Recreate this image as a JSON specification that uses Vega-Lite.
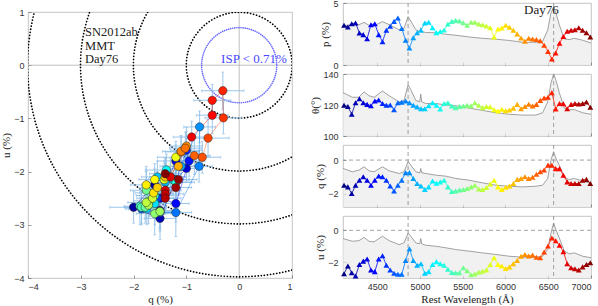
{
  "$schema": "https://vega.github.io/schema/vega-lite/v6.json",
  "padding": {"left": 0, "top": -2, "right": 0, "bottom": 0},
  "config": {
    "view": {"stroke": "#b4b4b4", "strokeWidth": 0.8},
    "axis": {"domain": false, "grid": false, "ticks": true, "tickSize": -3, "tickColor": "#555", "tickWidth": 0.6, "labelFont": "Liberation Sans", "labelFontSize": 9, "labelColor": "#333", "labelPadding": 7, "labelOverlap": false, "labelBound": false, "titleFont": "Liberation Serif", "titleFontSize": 11, "titleFontWeight": "normal", "titleColor": "#222", "titlePadding": 2}
  },
  "datasets": {
    "pol": [
      {"w": 4112, "p": 3.2, "t": 119.8, "q": -1.5, "u": -2.73, "qe": 0.3, "ue": 0.35},
      {"w": 4157, "p": 3.06, "t": 119, "q": -1.6, "u": -2.25, "qe": 0.25, "ue": 0.3},
      {"w": 4202, "p": 3.33, "t": 114, "q": -2.0, "u": -2.67, "qe": 0.45, "ue": 0.3},
      {"w": 4247, "p": 3.39, "t": 121.5, "q": -1.5, "u": -2.88, "qe": 0.3, "ue": 0.4},
      {"w": 4292, "p": 2.58, "t": 124, "q": -1.2, "u": -2.15, "qe": 0.25, "ue": 0.3},
      {"w": 4337, "p": 2.45, "t": 121.5, "q": -1.0, "u": -1.94, "qe": 0.3, "ue": 0.25},
      {"w": 4382, "p": 2.12, "t": 120.4, "q": -1.2, "u": -1.8, "qe": 0.35, "ue": 0.3},
      {"w": 4427, "p": 3.25, "t": 119.5, "q": -1.5, "u": -2.5, "qe": 0.3, "ue": 0.3},
      {"w": 4472, "p": 3.33, "t": 122.6, "q": -1.2, "u": -2.6, "qe": 0.25, "ue": 0.35},
      {"w": 4517, "p": 2.45, "t": 123.2, "q": -0.95, "u": -1.8, "qe": 0.3, "ue": 0.3},
      {"w": 4562, "p": 1.88, "t": 121, "q": -1.0, "u": -1.6, "qe": 0.3, "ue": 0.35},
      {"w": 4607, "p": 2.8, "t": 119.8, "q": -1.2, "u": -2.2, "qe": 0.35, "ue": 0.3},
      {"w": 4652, "p": 3.12, "t": 120, "q": -1.55, "u": -2.5, "qe": 0.3, "ue": 0.35},
      {"w": 4697, "p": 3.52, "t": 117, "q": -1.85, "u": -2.7, "qe": 0.3, "ue": 0.3},
      {"w": 4742, "p": 3.79, "t": 121.5, "q": -1.5, "u": -2.77, "qe": 0.4, "ue": 0.35},
      {"w": 4787, "p": 2.95, "t": 121.8, "q": -1.2, "u": -2.77, "qe": 0.3, "ue": 0.45},
      {"w": 4832, "p": 1.99, "t": 122.6, "q": -0.76, "u": -1.9, "qe": 0.25, "ue": 0.3},
      {"w": 4877, "p": 1.37, "t": 121.5, "q": -0.75, "u": -1.16, "qe": 0.3, "ue": 0.3},
      {"w": 4922, "p": 2.2, "t": 119.8, "q": -1.1, "u": -1.9, "qe": 0.35, "ue": 0.3},
      {"w": 4967, "p": 2.6, "t": 118.8, "q": -1.4, "u": -2.2, "qe": 0.3, "ue": 0.35},
      {"w": 5012, "p": 2.8, "t": 117.6, "q": -1.55, "u": -2.1, "qe": 0.3, "ue": 0.3},
      {"w": 5057, "p": 3.39, "t": 117.6, "q": -1.75, "u": -2.7, "qe": 0.35, "ue": 0.3},
      {"w": 5102, "p": 3.45, "t": 119.5, "q": -1.6, "u": -2.6, "qe": 0.3, "ue": 0.4},
      {"w": 5147, "p": 3.0, "t": 121.5, "q": -1.25, "u": -2.15, "qe": 0.3, "ue": 0.3},
      {"w": 5192, "p": 2.6, "t": 119.8, "q": -1.38, "u": -1.97, "qe": 0.4, "ue": 0.3},
      {"w": 5237, "p": 2.7, "t": 117.5, "q": -1.3, "u": -2.1, "qe": 0.3, "ue": 0.35},
      {"w": 5282, "p": 2.82, "t": 121, "q": -1.2, "u": -2.2, "qe": 0.3, "ue": 0.3},
      {"w": 5327, "p": 3.3, "t": 121.5, "q": -1.6, "u": -2.45, "qe": 0.35, "ue": 0.3},
      {"w": 5372, "p": 3.52, "t": 119.4, "q": -1.88, "u": -2.65, "qe": 0.3, "ue": 0.35},
      {"w": 5417, "p": 3.6, "t": 118.3, "q": -1.85, "u": -2.67, "qe": 0.3, "ue": 0.3},
      {"w": 5462, "p": 3.55, "t": 119, "q": -1.78, "u": -2.67, "qe": 0.4, "ue": 0.3},
      {"w": 5507, "p": 3.4, "t": 119.4, "q": -1.76, "u": -2.35, "qe": 0.3, "ue": 0.35},
      {"w": 5552, "p": 3.2, "t": 119.8, "q": -1.7, "u": -2.55, "qe": 0.3, "ue": 0.3},
      {"w": 5597, "p": 3.45, "t": 119.5, "q": -1.6, "u": -2.79, "qe": 0.35, "ue": 0.4},
      {"w": 5642, "p": 3.45, "t": 121.5, "q": -1.5, "u": -2.75, "qe": 0.3, "ue": 0.3},
      {"w": 5687, "p": 3.3, "t": 119.8, "q": -1.72, "u": -2.63, "qe": 0.3, "ue": 0.35},
      {"w": 5732, "p": 3.25, "t": 118.3, "q": -1.76, "u": -2.58, "qe": 0.35, "ue": 0.3},
      {"w": 5777, "p": 3.15, "t": 119, "q": -1.64, "u": -2.5, "qe": 0.3, "ue": 0.3},
      {"w": 5822, "p": 3.0, "t": 118.8, "q": -1.42, "u": -2.15, "qe": 0.3, "ue": 0.35},
      {"w": 5867, "p": 2.26, "t": 117, "q": -1.2, "u": -1.73, "qe": 0.35, "ue": 0.3},
      {"w": 5912, "p": 2.9, "t": 116.1, "q": -1.6, "u": -2.15, "qe": 0.3, "ue": 0.3},
      {"w": 5957, "p": 2.98, "t": 117.2, "q": -1.76, "u": -2.25, "qe": 0.3, "ue": 0.35},
      {"w": 6002, "p": 3.2, "t": 116.3, "q": -1.62, "u": -2.4, "qe": 0.35, "ue": 0.3},
      {"w": 6047, "p": 3.05, "t": 116.8, "q": -1.55, "u": -2.3, "qe": 0.3, "ue": 0.3},
      {"w": 6092, "p": 2.8, "t": 118, "q": -1.4, "u": -2.1, "qe": 0.3, "ue": 0.35},
      {"w": 6137, "p": 2.5, "t": 120.4, "q": -1.15, "u": -1.9, "qe": 0.35, "ue": 0.3},
      {"w": 6182, "p": 2.18, "t": 117.6, "q": -1.1, "u": -1.63, "qe": 0.3, "ue": 0.3},
      {"w": 6227, "p": 1.92, "t": 119, "q": -1.0, "u": -1.52, "qe": 0.3, "ue": 0.35},
      {"w": 6272, "p": 2.15, "t": 120.5, "q": -1.1, "u": -1.62, "qe": 0.35, "ue": 0.3},
      {"w": 6317, "p": 2.1, "t": 119.4, "q": -1.02, "u": -1.56, "qe": 0.3, "ue": 0.3},
      {"w": 6362, "p": 2.05, "t": 120.4, "q": -0.85, "u": -1.7, "qe": 0.3, "ue": 0.35},
      {"w": 6407, "p": 1.95, "t": 123, "q": -0.7, "u": -1.73, "qe": 0.35, "ue": 0.3},
      {"w": 6452, "p": 1.6, "t": 124.5, "q": -0.59, "u": -1.37, "qe": 0.4, "ue": 0.35},
      {"w": 6497, "p": 1.1, "t": 125, "q": -0.3, "u": -0.99, "qe": 0.35, "ue": 0.3},
      {"w": 6542, "p": 0.48, "t": 128, "q": -0.31, "u": -0.48, "qe": 0.4, "ue": 0.35},
      {"w": 6587, "p": 0.97, "t": 117.5, "q": -0.51, "u": -0.66, "qe": 0.35, "ue": 0.3},
      {"w": 6632, "p": 1.75, "t": 121, "q": -0.51, "u": -0.94, "qe": 0.3, "ue": 0.35},
      {"w": 6677, "p": 2.3, "t": 120.8, "q": -0.9, "u": -1.35, "qe": 0.35, "ue": 0.3},
      {"w": 6722, "p": 2.72, "t": 117.6, "q": -1.3, "u": -2.1, "qe": 0.3, "ue": 0.3},
      {"w": 6767, "p": 2.8, "t": 120.4, "q": -1.4, "u": -2.35, "qe": 0.3, "ue": 0.35},
      {"w": 6812, "p": 2.85, "t": 121, "q": -1.4, "u": -2.42, "qe": 0.35, "ue": 0.3},
      {"w": 6857, "p": 3.0, "t": 120.6, "q": -1.4, "u": -2.5, "qe": 0.3, "ue": 0.3},
      {"w": 6902, "p": 2.8, "t": 121, "q": -1.2, "u": -2.3, "qe": 0.3, "ue": 0.35},
      {"w": 6947, "p": 2.6, "t": 122, "q": -1.15, "u": -2.15, "qe": 0.35, "ue": 0.3},
      {"w": 6992, "p": 2.26, "t": 118.5, "q": -1.4, "u": -2.04, "qe": 0.3, "ue": 0.3}
    ],
    "spec": [
      {"w": 4100, "fp": 3.17, "ft": 128, "fq": -0.5, "fu": -0.52},
      {"w": 4209, "fp": 3.25, "ft": 125, "fq": -0.7, "fu": -0.69},
      {"w": 4287, "fp": 3.25, "ft": 125, "fq": -0.6, "fu": -0.65},
      {"w": 4346, "fp": 3.44, "ft": 128.5, "fq": -0.4, "fu": -0.44},
      {"w": 4404, "fp": 3.2, "ft": 126, "fq": -0.64, "fu": -0.69},
      {"w": 4463, "fp": 3.15, "ft": 125, "fq": -0.7, "fu": -0.73},
      {"w": 4561, "fp": 3.5, "ft": 129, "fq": -0.4, "fu": -0.37},
      {"w": 4639, "fp": 3.25, "ft": 126, "fq": -0.64, "fu": -0.65},
      {"w": 4756, "fp": 2.85, "ft": 122, "fq": -0.8, "fu": -0.9},
      {"w": 4814, "fp": 2.95, "ft": 123, "fq": -0.7, "fu": -0.79},
      {"w": 4861, "fp": 3.9, "ft": 133, "fq": -0.1, "fu": -0.17},
      {"w": 4892, "fp": 3.55, "ft": 130, "fq": -0.3, "fu": -0.37},
      {"w": 4951, "fp": 2.85, "ft": 123, "fq": -0.7, "fu": -0.79},
      {"w": 4998, "fp": 2.7, "ft": 122, "fq": -0.76, "fu": -0.85},
      {"w": 5009, "fp": 3.0, "ft": 127, "fq": -0.5, "fu": -0.52},
      {"w": 5021, "fp": 2.7, "ft": 122, "fq": -0.76, "fu": -0.85},
      {"w": 5068, "fp": 2.62, "ft": 121, "fq": -0.8, "fu": -0.94},
      {"w": 5185, "fp": 2.6, "ft": 121, "fq": -0.9, "fu": -1.0},
      {"w": 5302, "fp": 2.48, "ft": 120, "fq": -0.96, "fu": -1.1},
      {"w": 5419, "fp": 2.4, "ft": 119.5, "fq": -1.1, "fu": -1.21},
      {"w": 5575, "fp": 2.26, "ft": 118, "fq": -1.2, "fu": -1.31},
      {"w": 5731, "fp": 2.15, "ft": 116.5, "fq": -1.36, "fu": -1.42},
      {"w": 5888, "fp": 2.08, "ft": 115, "fq": -1.5, "fu": -1.52},
      {"w": 6044, "fp": 1.98, "ft": 114, "fq": -1.56, "fu": -1.63},
      {"w": 6200, "fp": 1.83, "ft": 113.5, "fq": -1.6, "fu": -1.69},
      {"w": 6356, "fp": 1.83, "ft": 113.5, "fq": -1.56, "fu": -1.69},
      {"w": 6434, "fp": 1.9, "ft": 115, "fq": -1.5, "fu": -1.63},
      {"w": 6493, "fp": 2.8, "ft": 122, "fq": -1.1, "fu": -1.21},
      {"w": 6532, "fp": 4.2, "ft": 134, "fq": 0.0, "fu": -0.17},
      {"w": 6563, "fp": 4.68, "ft": 140, "fq": 0.5, "fu": 0.46},
      {"w": 6590, "fp": 4.2, "ft": 136, "fq": 0.1, "fu": 0.04},
      {"w": 6629, "fp": 3.25, "ft": 128, "fq": -0.3, "fu": -0.48},
      {"w": 6688, "fp": 2.1, "ft": 118, "fq": -1.04, "fu": -1.31},
      {"w": 6747, "fp": 2.05, "ft": 117, "fq": -1.16, "fu": -1.48},
      {"w": 6805, "fp": 2.15, "ft": 117, "fq": -1.1, "fu": -1.42},
      {"w": 6903, "fp": 2.0, "ft": 115, "fq": -1.24, "fu": -1.63},
      {"w": 7000, "fp": 1.77, "ft": 114, "fq": -1.4, "fu": -1.73}
    ],
    "lines": [{"w": 4861}, {"w": 6563}]
  },
  "spacing": 16,
  "hconcat": [
    {
      "spacing": 3,
      "vconcat": [
        {"width": 264, "height": 1, "data": {"values": []}, "mark": "point", "view": {"stroke": null}},
        {
          "width": 264,
          "height": 266,
          "layer": [
            {"data": {"values": [{"v": 0}]}, "mark": {"type": "rule", "color": "#b0b0b0", "strokeWidth": 0.8},
             "encoding": {"x": {"field": "v", "type": "quantitative", "title": "q (%)", "scale": {"domain": [-4, 1], "nice": false, "zero": false}, "axis": {"values": [-4, -3, -2, -1, 0, 1], "title": "q (%)", "labelPadding": 7}}}},
            {"data": {"values": [{"v": 0}]}, "mark": {"type": "rule", "color": "#b0b0b0", "strokeWidth": 0.8},
             "encoding": {"y": {"field": "v", "type": "quantitative", "title": "u (%)", "scale": {"domain": [-4, 1], "nice": false, "zero": false}, "axis": {"values": [-4, -3, -2, -1, 0, 1], "title": "u (%)", "labelPadding": 7}}}},
            {"data": {"values": [{"r": 1, "c": 0}, {"r": 2, "c": 0}, {"r": 3, "c": 0}, {"r": 4, "c": 0}]},
             "mark": {"type": "point", "shape": "circle", "filled": false, "stroke": "#000", "strokeWidth": 1.7, "strokeDash": [0.1, 3], "strokeCap": "round", "opacity": 1, "clip": true},
             "encoding": {"x": {"field": "c", "type": "quantitative", "title": "q (%)"}, "y": {"field": "c", "type": "quantitative", "title": "u (%)"},
                          "size": {"field": "r", "type": "quantitative", "scale": {"type": "pow", "exponent": 2, "domain": [0, 1], "range": [0, 11194]}, "legend": null}}},
            {"data": {"values": [{"r": 0.71, "c": 0}]},
             "mark": {"type": "point", "shape": "circle", "filled": false, "stroke": "#5a5aff", "strokeWidth": 1.6, "strokeDash": [0.1, 2], "strokeCap": "round", "opacity": 0.9, "clip": true},
             "encoding": {"x": {"field": "c", "type": "quantitative", "title": "q (%)"}, "y": {"field": "c", "type": "quantitative", "title": "u (%)"},
                          "size": {"field": "r", "type": "quantitative", "scale": {"type": "pow", "exponent": 2, "domain": [0, 1], "range": [0, 11194]}, "legend": null}}},
            {"data": {"name": "pol"}, "mark": {"type": "errorbar", "color": "#8fc0e8", "thickness": 0.9, "ticks": {"size": 3, "thickness": 0.9}},
             "encoding": {"x": {"field": "q", "type": "quantitative", "title": "q (%)"}, "xError": {"field": "qe"}, "y": {"field": "u", "type": "quantitative", "title": "u (%)"}}},
            {"data": {"name": "pol"}, "mark": {"type": "errorbar", "color": "#8fc0e8", "thickness": 0.9, "ticks": {"size": 3, "thickness": 0.9}},
             "encoding": {"y": {"field": "u", "type": "quantitative", "title": "u (%)"}, "yError": {"field": "ue"}, "x": {"field": "q", "type": "quantitative", "title": "q (%)"}}},
            {"data": {"name": "pol"},
             "transform": [{"window": [{"op": "lead", "field": "q", "as": "q2"}, {"op": "lead", "field": "u", "as": "u2"}], "sort": [{"field": "w"}]}, {"filter": "datum.q2 != null"}],
             "mark": {"type": "rule", "strokeWidth": 0.8, "opacity": 0.55},
             "encoding": {"x": {"field": "q", "type": "quantitative", "title": "q (%)"}, "y": {"field": "u", "type": "quantitative", "title": "u (%)"}, "x2": {"field": "q2"}, "y2": {"field": "u2"},
                          "color": {"field": "w", "type": "quantitative", "scale": {"domain": [4100, 4462.5, 4825, 5187.5, 5550, 5912.5, 6275, 6637.5, 7000], "range": ["#000080", "#0000ff", "#0080ff", "#00ffff", "#80ff80", "#ffff00", "#ff8000", "#ff0000", "#800000"], "interpolate": "rgb"}, "legend": null}}},
            {"data": {"name": "pol"}, "mark": {"type": "point", "shape": "circle", "filled": true, "size": 70, "stroke": "#222", "strokeWidth": 0.5, "opacity": 1},
             "encoding": {"x": {"field": "q", "type": "quantitative", "title": "q (%)"}, "y": {"field": "u", "type": "quantitative", "title": "u (%)"},
                          "color": {"field": "w", "type": "quantitative", "legend": null}}},
            {"data": {"values": [{"q": -2.92, "u": 0.615, "s": "SN2012ab"}, {"q": -2.92, "u": 0.365, "s": "MMT"}, {"q": -2.92, "u": 0.113, "s": "Day76"}]},
             "mark": {"type": "text", "align": "left", "baseline": "middle", "font": "Liberation Serif", "fontSize": 12.5, "color": "#222"},
             "encoding": {"x": {"field": "q", "type": "quantitative", "title": "q (%)"}, "y": {"field": "u", "type": "quantitative", "title": "u (%)"}, "text": {"field": "s"}}},
            {"data": {"values": [{"q": 0.28, "u": 0.113, "s": "ISP < 0.71%"}]},
             "mark": {"type": "text", "align": "center", "baseline": "middle", "font": "Liberation Serif", "fontSize": 13, "color": "#4848ff"},
             "encoding": {"x": {"field": "q", "type": "quantitative", "title": "q (%)"}, "y": {"field": "u", "type": "quantitative", "title": "u (%)"}, "text": {"field": "s"}}}
          ]
        }
      ]
    },
    {
      "bounds": "flush",
      "spacing": 9,
      "vconcat": [
        {
          "width": 248, "height": 62,
          "resolve": {"axis": {"x": "independent", "y": "independent"}},
          "layer": [
            {"data": {"name": "spec"}, "mark": {"type": "area", "color": "#ebebeb", "line": {"color": "#8a8a8a", "strokeWidth": 0.8}, "clip": true},
             "encoding": {"x": {"field": "w", "type": "quantitative", "scale": {"domain": [4100, 7000], "nice": false, "zero": false}, "axis": {"values": [4500, 5000, 5500, 6000, 6500, 7000], "labels": false, "title": null}},
                          "y": {"field": "fp", "type": "quantitative", "scale": {"domain": [0, 5], "nice": false}, "axis": {"values": [0, 5], "title": "p (%)", "labelPadding": 8}},
                          "y2": {"datum": 0}}},
            {"data": {"name": "lines"}, "mark": {"type": "rule", "color": "#8a8a8a", "strokeDash": [4, 3], "strokeWidth": 0.8},
             "encoding": {"x": {"field": "w", "type": "quantitative", "axis": null}}},
            {"data": {"name": "pol"},
             "transform": [{"window": [{"op": "lead", "field": "w", "as": "w2"}, {"op": "lead", "field": "p", "as": "v2"}], "sort": [{"field": "w"}]}, {"filter": "datum.w2 != null"}],
             "mark": {"type": "rule", "strokeWidth": 0.8},
             "encoding": {"x": {"field": "w", "type": "quantitative", "axis": null}, "y": {"field": "p", "type": "quantitative", "axis": null}, "x2": {"field": "w2"}, "y2": {"field": "v2"},
                          "color": {"field": "w", "type": "quantitative", "scale": {"domain": [4100, 4462.5, 4825, 5187.5, 5550, 5912.5, 6275, 6637.5, 7000], "range": ["#000080", "#0000ff", "#0080ff", "#00ffff", "#80ff80", "#ffff00", "#ff8000", "#ff0000", "#800000"], "interpolate": "rgb"}, "legend": null}}},
            {"data": {"name": "pol"}, "mark": {"type": "point", "shape": "triangle-up", "filled": true, "size": 34, "opacity": 1},
             "encoding": {"x": {"field": "w", "type": "quantitative", "axis": null}, "y": {"field": "p", "type": "quantitative", "axis": null}, "color": {"field": "w", "type": "quantitative", "legend": null}}},
            {"data": {"values": [{"w": 6622, "v": 4.4, "s": "Day76"}]}, "mark": {"type": "text", "align": "right", "baseline": "middle", "font": "Liberation Serif", "fontSize": 13, "color": "#222"},
             "encoding": {"x": {"field": "w", "type": "quantitative", "axis": null}, "y": {"field": "v", "type": "quantitative", "axis": null}, "text": {"field": "s"}}}
          ]
        },
        {
          "width": 248, "height": 62,
          "resolve": {"axis": {"x": "independent", "y": "independent"}},
          "layer": [
            {"data": {"name": "spec"}, "mark": {"type": "area", "color": "#ebebeb", "line": {"color": "#8a8a8a", "strokeWidth": 0.8}, "clip": true},
             "encoding": {"x": {"field": "w", "type": "quantitative", "scale": {"domain": [4100, 7000], "nice": false, "zero": false}, "axis": {"values": [4500, 5000, 5500, 6000, 6500, 7000], "labels": false, "title": null}},
                          "y": {"field": "ft", "type": "quantitative", "scale": {"domain": [100, 140], "nice": false, "zero": false}, "axis": {"values": [100, 120, 140], "title": "θ(°)", "labelPadding": 8}},
                          "y2": {"datum": 100}}},
            {"data": {"name": "lines"}, "mark": {"type": "rule", "color": "#8a8a8a", "strokeDash": [4, 3], "strokeWidth": 0.8},
             "encoding": {"x": {"field": "w", "type": "quantitative", "axis": null}}},
            {"data": {"name": "pol"},
             "transform": [{"window": [{"op": "lead", "field": "w", "as": "w2"}, {"op": "lead", "field": "t", "as": "v2"}], "sort": [{"field": "w"}]}, {"filter": "datum.w2 != null"}],
             "mark": {"type": "rule", "strokeWidth": 0.8},
             "encoding": {"x": {"field": "w", "type": "quantitative", "axis": null}, "y": {"field": "t", "type": "quantitative", "axis": null}, "x2": {"field": "w2"}, "y2": {"field": "v2"},
                          "color": {"field": "w", "type": "quantitative", "scale": {"domain": [4100, 4462.5, 4825, 5187.5, 5550, 5912.5, 6275, 6637.5, 7000], "range": ["#000080", "#0000ff", "#0080ff", "#00ffff", "#80ff80", "#ffff00", "#ff8000", "#ff0000", "#800000"], "interpolate": "rgb"}, "legend": null}}},
            {"data": {"name": "pol"}, "mark": {"type": "point", "shape": "triangle-up", "filled": true, "size": 34, "opacity": 1},
             "encoding": {"x": {"field": "w", "type": "quantitative", "axis": null}, "y": {"field": "t", "type": "quantitative", "axis": null}, "color": {"field": "w", "type": "quantitative", "legend": null}}}
          ]
        },
        {
          "width": 248, "height": 62,
          "resolve": {"axis": {"x": "independent", "y": "independent"}},
          "layer": [
            {"data": {"name": "spec"}, "mark": {"type": "area", "color": "#ebebeb", "line": {"color": "#8a8a8a", "strokeWidth": 0.8}, "clip": true},
             "encoding": {"x": {"field": "w", "type": "quantitative", "scale": {"domain": [4100, 7000], "nice": false, "zero": false}, "axis": {"values": [4500, 5000, 5500, 6000, 6500, 7000], "labels": false, "title": null}},
                          "y": {"field": "fq", "type": "quantitative", "scale": {"domain": [-2.8, 0.9], "nice": false, "zero": false}, "axis": {"values": [-2, 0], "title": "q (%)", "labelPadding": 8}},
                          "y2": {"datum": -2.8}}},
            {"data": {"name": "lines"}, "mark": {"type": "rule", "color": "#8a8a8a", "strokeDash": [4, 3], "strokeWidth": 0.8},
             "encoding": {"x": {"field": "w", "type": "quantitative", "axis": null}}},
            {"data": {"values": [{"v": 0}]}, "mark": {"type": "rule", "color": "#8a8a8a", "strokeDash": [4, 3], "strokeWidth": 0.8},
             "encoding": {"y": {"field": "v", "type": "quantitative", "axis": null}}},
            {"data": {"name": "pol"},
             "transform": [{"window": [{"op": "lead", "field": "w", "as": "w2"}, {"op": "lead", "field": "q", "as": "v2"}], "sort": [{"field": "w"}]}, {"filter": "datum.w2 != null"}],
             "mark": {"type": "rule", "strokeWidth": 0.8},
             "encoding": {"x": {"field": "w", "type": "quantitative", "axis": null}, "y": {"field": "q", "type": "quantitative", "axis": null}, "x2": {"field": "w2"}, "y2": {"field": "v2"},
                          "color": {"field": "w", "type": "quantitative", "scale": {"domain": [4100, 4462.5, 4825, 5187.5, 5550, 5912.5, 6275, 6637.5, 7000], "range": ["#000080", "#0000ff", "#0080ff", "#00ffff", "#80ff80", "#ffff00", "#ff8000", "#ff0000", "#800000"], "interpolate": "rgb"}, "legend": null}}},
            {"data": {"name": "pol"}, "mark": {"type": "point", "shape": "triangle-up", "filled": true, "size": 34, "opacity": 1},
             "encoding": {"x": {"field": "w", "type": "quantitative", "axis": null}, "y": {"field": "q", "type": "quantitative", "axis": null}, "color": {"field": "w", "type": "quantitative", "legend": null}}}
          ]
        },
        {
          "width": 248, "height": 62,
          "resolve": {"axis": {"x": "independent", "y": "independent"}},
          "layer": [
            {"data": {"name": "spec"}, "mark": {"type": "area", "color": "#ebebeb", "line": {"color": "#8a8a8a", "strokeWidth": 0.8}, "clip": true},
             "encoding": {"x": {"field": "w", "type": "quantitative", "scale": {"domain": [4100, 7000], "nice": false, "zero": false}, "axis": {"values": [4500, 5000, 5500, 6000, 6500, 7000], "format": "d", "title": "Rest Wavelength (Å)", "labelPadding": 7}},
                          "y": {"field": "fu", "type": "quantitative", "scale": {"domain": [-3, 0.9], "nice": false, "zero": false}, "axis": {"values": [-2, 0], "title": "u (%)", "labelPadding": 8}},
                          "y2": {"datum": -3}}},
            {"data": {"name": "lines"}, "mark": {"type": "rule", "color": "#8a8a8a", "strokeDash": [4, 3], "strokeWidth": 0.8},
             "encoding": {"x": {"field": "w", "type": "quantitative", "axis": null}}},
            {"data": {"values": [{"v": 0}]}, "mark": {"type": "rule", "color": "#8a8a8a", "strokeDash": [4, 3], "strokeWidth": 0.8},
             "encoding": {"y": {"field": "v", "type": "quantitative", "axis": null}}},
            {"data": {"name": "pol"},
             "transform": [{"window": [{"op": "lead", "field": "w", "as": "w2"}, {"op": "lead", "field": "u", "as": "v2"}], "sort": [{"field": "w"}]}, {"filter": "datum.w2 != null"}],
             "mark": {"type": "rule", "strokeWidth": 0.8},
             "encoding": {"x": {"field": "w", "type": "quantitative", "axis": null}, "y": {"field": "u", "type": "quantitative", "axis": null}, "x2": {"field": "w2"}, "y2": {"field": "v2"},
                          "color": {"field": "w", "type": "quantitative", "scale": {"domain": [4100, 4462.5, 4825, 5187.5, 5550, 5912.5, 6275, 6637.5, 7000], "range": ["#000080", "#0000ff", "#0080ff", "#00ffff", "#80ff80", "#ffff00", "#ff8000", "#ff0000", "#800000"], "interpolate": "rgb"}, "legend": null}}},
            {"data": {"name": "pol"}, "mark": {"type": "point", "shape": "triangle-up", "filled": true, "size": 34, "opacity": 1},
             "encoding": {"x": {"field": "w", "type": "quantitative", "axis": null}, "y": {"field": "u", "type": "quantitative", "axis": null}, "color": {"field": "w", "type": "quantitative", "legend": null}}}
          ]
        }
      ]
    }
  ]
}
